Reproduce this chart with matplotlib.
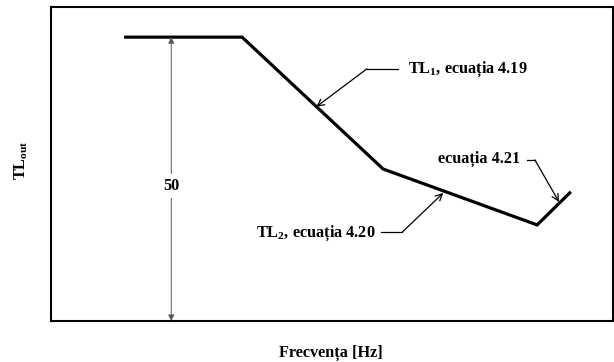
import matplotlib.pyplot as plt

plt.rcParams['font.family'] = ['Liberation Serif', 'DejaVu Serif']
plt.rcParams['font.weight'] = 'bold'
plt.rcParams['mathtext.fontset'] = 'custom'
plt.rcParams['mathtext.rm'] = 'Liberation Serif:bold'
plt.rcParams['mathtext.it'] = 'Liberation Serif:bold'
plt.rcParams['mathtext.bf'] = 'Liberation Serif:bold'
plt.rcParams['mathtext.default'] = 'rm'

# curba TL (unitati relative pe axe 0..100)
frecv = [13.3, 34.0, 59.1, 86.5, 92.3]
tl = [90.4, 90.4, 48.4, 30.6, 40.8]

eticheta_50 = "50"
eticheta_tl1 = "TL$_1$, ecuația 4.19"
eticheta_tl2 = "TL$_2$, ecuația 4.20"
eticheta_421 = "ecuația 4.21"

fig = plt.figure(figsize=(6.14, 3.62), dpi=100)
ax = fig.add_axes([51 / 614, 41 / 362, 562 / 614, 314 / 362])
ax.set_xlim(0, 100)
ax.set_ylim(0, 100)
ax.set_xticks([])
ax.set_yticks([])
for s in ax.spines.values():
    s.set_linewidth(1.5)

# curba principala
ax.plot(frecv, tl, color='black', lw=2.3, solid_joinstyle='miter')

fs = 11.7

# cota de 50 dB
ax.annotate('', xy=(21.4, tl[0]), xytext=(21.4, 0),
            arrowprops=dict(arrowstyle='<|-|>', color='0.35', lw=0.7,
                            mutation_scale=9, shrinkA=0, shrinkB=0))
ax.text(21.4, 43, eticheta_50, ha='center', va='center', fontsize=fs,
        bbox=dict(facecolor='white', edgecolor='none', pad=3))

arr = dict(arrowstyle='->', color='black', lw=0.9, mutation_scale=12,
           shrinkA=0, shrinkB=0)

# TL1
ax.text(63.5, 80.3, eticheta_tl1, ha='left', va='center', fontsize=fs)
ax.plot([56.2, 61.7], [80.3, 80.3], color='black', lw=0.9)
ax.annotate('', xy=(47.2, 68.2), xytext=(56.2, 80.3), arrowprops=arr)

# TL2
ax.text(57.7, 28.0, eticheta_tl2, ha='right', va='center', fontsize=fs)
ax.plot([58.7, 62.5], [28.3, 28.3], color='black', lw=0.9)
ax.annotate('', xy=(69.8, 40.8), xytext=(62.5, 28.3), arrowprops=arr)

# ecuatia 4.21
ax.text(83.5, 51.6, eticheta_421, ha='right', va='center', fontsize=fs)
ax.plot([84.7, 86.1], [51.3, 51.3], color='black', lw=0.9)
ax.annotate('', xy=(90.4, 37.9), xytext=(86.1, 51.3), arrowprops=arr)

fig.text(21 / 614, 1 - 160 / 362, "TL$_{out}$", rotation=90,
         ha='center', va='center', fontsize=fs)
fig.text(331 / 614, 1 - 353 / 362, "Frecvența [Hz]",
         ha='center', va='center', fontsize=fs)

fig.savefig('out.png', dpi=100)
